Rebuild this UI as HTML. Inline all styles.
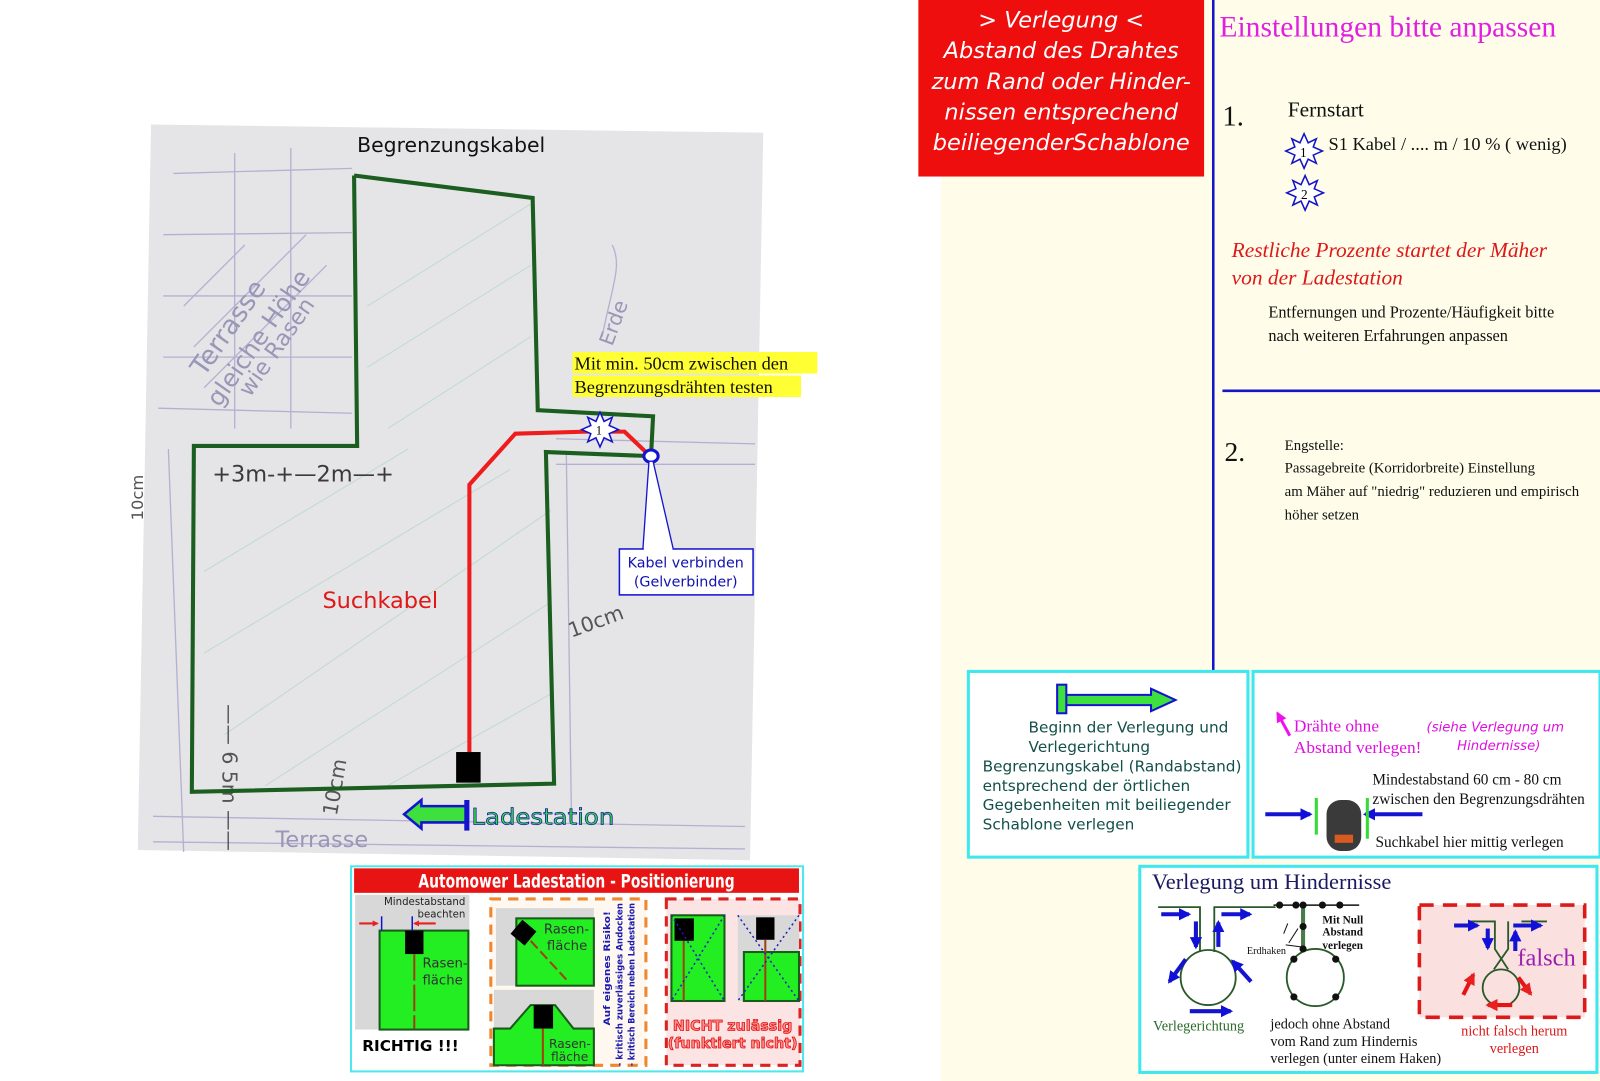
<!DOCTYPE html>
<html><head><meta charset="utf-8">
<style>
html,body{margin:0;padding:0;background:#fff;}
svg{display:block}
.s{font-family:"DejaVu Sans","Liberation Sans",sans-serif}
.t{font-family:"Liberation Serif",serif}
</style></head>
<body>
<svg width="1600" height="1081" viewBox="0 0 1568 1059.4" preserveAspectRatio="none" xmlns="http://www.w3.org/2000/svg">
<defs>
<marker id="bh" viewBox="0 0 10 10" refX="8" refY="5" markerWidth="3" markerHeight="3" orient="auto"><path d="M0,0L10,5L0,10z" fill="#1010d8"/></marker>
<marker id="rh" viewBox="0 0 10 10" refX="8" refY="5" markerWidth="3" markerHeight="3" orient="auto"><path d="M0,0L10,5L0,10z" fill="#e82020"/></marker>
<marker id="mh" viewBox="0 0 10 10" refX="8" refY="5" markerWidth="3.5" markerHeight="3.5" orient="auto"><path d="M0,0L10,5L0,10z" fill="#ee10ee"/></marker>
</defs>

<!-- right cream background -->
<rect x="922" y="0" width="646" height="1060" fill="#fffde9"/>

<!-- sketch paper -->
<polygon points="148,122 748,130 735,843 135,833" fill="#e5e5e7"/>
<g stroke="#a9a3cc" stroke-width="1.3" fill="none" opacity="0.8">
<path d="M170,170 L345,165 M160,230 L345,228 M160,290 L345,290 M160,350 L345,350 M155,400 L345,405"/>
<path d="M230,150 L230,420 M285,145 L285,420"/>
<path d="M165,440 L180,835 M150,800 L730,810 M150,825 L730,832 M555,445 L560,800 M545,430 L740,435 M545,455 L740,455"/>
<path d="M180,300 L240,240 M190,340 L300,230 M200,380 L320,260"/>
<path d="M590,330 C600,280 610,260 600,240"/>
</g>
<g stroke="#b7d8c4" stroke-width="1" opacity="0.8">
<path d="M360,300 L520,200 M360,360 L520,260 M380,420 L520,330 M200,560 L400,440 M200,640 L500,460 M220,720 L540,500 M260,770 L540,590 M380,770 L540,680"/>
</g>
<g fill="#3a3a3a" class="s" font-size="22">
<text x="208" y="472">+3m-+—2m—+</text>
</g>
<g fill="#555" class="s" font-size="20">
<text transform="translate(218,690) rotate(90)">—— 6 5m ——</text>
<text transform="translate(560,625) rotate(-20)">10cm</text>
<text transform="translate(330,800) rotate(-80)">10cm</text>
<text transform="translate(600,340) rotate(-70)" fill="#9a96b8">Erde</text>
<text transform="translate(200,370) rotate(-55)" fill="#9a96b8" font-size="26">Terrasse</text>
<text transform="translate(215,400) rotate(-55)" fill="#9a96b8" font-size="24">gleiche Höhe</text>
<text transform="translate(245,390) rotate(-55)" fill="#9a96b8" font-size="22">wie Rasen</text>
<text transform="translate(140,510) rotate(-90)" font-size="16">10cm</text>
<text x="270" y="830" fill="#9a96b8" font-size="22">Terrasse</text>
</g>

<!-- Begrenzungskabel -->
<polyline points="347,172 522,194 527,402 640,408 638,447 535,443 543,768 188,776 190,437 350,437 347,172" fill="none" stroke="#1b5e20" stroke-width="4"/>
<text x="350" y="149" class="s" font-size="20" fill="#111">Begrenzungskabel</text>
<!-- Suchkabel -->
<polyline points="460,740 460,475 505,425 575,423 612,423 635,445" fill="none" stroke="#ee1c1c" stroke-width="4"/>
<rect x="447" y="737" width="24" height="30" fill="#000"/>
<text x="316" y="596" class="s" font-size="22" fill="#e01818">Suchkabel</text>
<!-- star 1 -->
<polygon points="588,404 592,413 600,409 597,417 606,421 597,425 600,433 592,429 588,438 584,429 576,433 579,425 570,421 579,417 576,409 584,413" fill="#fff" stroke="#1212c8" stroke-width="1.5"/>
<text x="584" y="426" class="t" font-size="12">1</text>
<!-- connector -->
<ellipse cx="638" cy="447" rx="7" ry="6" fill="#fff" stroke="#1414d0" stroke-width="3"/>
<polygon points="636,452 630,539 660,539 640,452" fill="#fff" stroke="#1414d0" stroke-width="1.3"/>
<rect x="607" y="538" width="131" height="45" fill="#fff" stroke="#1414d0" stroke-width="1.5"/>
<line x1="631" y1="538" x2="659" y2="538" stroke="#fff" stroke-width="2"/>
<text x="672" y="556" text-anchor="middle" class="s" font-size="14" fill="#1212b0">Kabel verbinden</text>
<text x="672" y="575" text-anchor="middle" class="s" font-size="14" fill="#1212b0">(Gelverbinder)</text>
<!-- yellow label -->
<rect x="561" y="345" width="240" height="21" fill="#ffff33"/>
<rect x="561" y="368" width="224" height="21" fill="#ffff33"/>
<text x="563" y="362" class="t" font-size="18" fill="#111">Mit min. 50cm zwischen den</text>
<text x="563" y="385" class="t" font-size="18" fill="#111">Begrenzungsdrähten testen</text>
<!-- Ladestation -->
<path d="M458,790 L413,790 L413,784 L396,798 L413,812 L413,806 L458,806" fill="#3ee03e" stroke="#1414d0" stroke-width="2.5"/>
<rect x="455" y="784" width="5" height="30" fill="#1414d0"/>
<text x="462" y="808" class="s" font-size="22" fill="#33dd33" stroke="#1414b0" stroke-width="0.7" textLength="140" lengthAdjust="spacingAndGlyphs">Ladestation</text>

<!-- lower-left panel -->
<rect x="344" y="849" width="443" height="201" fill="#fff" stroke="#4de8ee" stroke-width="2"/>
<rect x="347" y="851" width="436" height="24" fill="#e81414"/>
<text x="565" y="870" text-anchor="middle" class="s" font-weight="bold" font-size="18" fill="#fff" textLength="310" lengthAdjust="spacingAndGlyphs">Automower Ladestation - Positionierung</text>
<rect x="348" y="877" width="112" height="132" fill="#d8d8d8"/>
<rect x="372" y="912" width="87" height="97" fill="#22ee22" stroke="#1a5a1a" stroke-width="2"/>
<rect x="397" y="912" width="18" height="23" fill="#000"/>
<line x1="406" y1="935" x2="406" y2="1008" stroke="#a04010" stroke-width="2" stroke-dasharray="20,0,6,4"/>
<text x="456" y="887" text-anchor="end" class="s" font-size="10" fill="#222">Mindestabstand</text>
<text x="456" y="899" text-anchor="end" class="s" font-size="10" fill="#222">beachten</text>
<line x1="352" y1="905" x2="370" y2="905" stroke="#e82020" stroke-width="2" marker-end="url(#rh)"/>
<line x1="427" y1="905" x2="406" y2="905" stroke="#e82020" stroke-width="2" marker-end="url(#rh)"/>
<line x1="374" y1="898" x2="374" y2="912" stroke="#1414d0" stroke-width="1.5"/>
<line x1="404" y1="898" x2="404" y2="912" stroke="#1414d0" stroke-width="1.5"/>
<text x="414" y="948" class="s" font-size="13" fill="#333">Rasen-</text>
<text x="414" y="965" class="s" font-size="13" fill="#333">fläche</text>
<text x="355" y="1030" class="s" font-weight="bold" font-size="15" fill="#000">RICHTIG !!!</text>
<rect x="481" y="881" width="152" height="163" fill="#fff8f0" stroke="#ee8830" stroke-width="3" stroke-dasharray="10,7"/>
<rect x="486" y="890" width="96" height="76" fill="#d8d8d8"/>
<rect x="506" y="900" width="76" height="66" fill="#22ee22" stroke="#1a5a1a" stroke-width="2"/>
<rect x="504" y="905" width="18" height="18" fill="#000" transform="rotate(40 513 914)"/>
<line x1="520" y1="922" x2="555" y2="960" stroke="#a04010" stroke-width="2" stroke-dasharray="10,4"/>
<text x="533" y="915" class="s" font-size="13" fill="#333">Rasen-</text>
<text x="536" y="931" class="s" font-size="13" fill="#333">fläche</text>
<rect x="484" y="970" width="98" height="74" fill="#d8d8d8"/>
<polygon points="484,1044 484,1008 500,1008 520,985 544,985 562,1008 582,1008 582,1044" fill="#22ee22" stroke="#1a5a1a" stroke-width="2"/>
<rect x="523" y="985" width="19" height="23" fill="#000"/>
<line x1="532" y1="1008" x2="532" y2="1044" stroke="#a04010" stroke-width="2"/>
<text x="538" y="1027" class="s" font-size="12" fill="#333">Rasen-</text>
<text x="540" y="1040" class="s" font-size="12" fill="#333">fläche</text>
<g class="s" font-size="9" font-weight="bold" fill="#1a1ab0">
<text transform="translate(598,1005) rotate(-90)" textLength="112" lengthAdjust="spacingAndGlyphs">Auf eigenes Risiko!</text>
<text transform="translate(610,1045) rotate(-90)" textLength="160" lengthAdjust="spacingAndGlyphs">- kritisch zuverlässiges Andocken</text>
<text transform="translate(622,1045) rotate(-90)" textLength="160" lengthAdjust="spacingAndGlyphs">- kritisch Bereich neben Ladestation</text>
</g>
<rect x="653" y="881" width="131" height="163" fill="#fde4e4" stroke="#dd2020" stroke-width="3" stroke-dasharray="10,7"/>
<rect x="658" y="897" width="52" height="84" fill="#22ee22" stroke="#1a5a1a" stroke-width="2"/>
<rect x="661" y="900" width="19" height="22" fill="#000"/>
<line x1="670" y1="922" x2="670" y2="981" stroke="#a04010" stroke-width="2"/>
<path d="M658,897 L710,981 M710,897 L658,981" stroke="#2020c0" stroke-dasharray="2,3" stroke-width="1.5"/>
<rect x="723" y="897" width="60" height="84" fill="#d8d8d8"/>
<rect x="729" y="933" width="54" height="48" fill="#22ee22" stroke="#1a5a1a" stroke-width="2"/>
<rect x="741" y="899" width="18" height="22" fill="#000"/>
<line x1="750" y1="921" x2="750" y2="981" stroke="#a04010" stroke-width="2"/>
<path d="M723,897 L783,981 M783,897 L723,981" stroke="#2020c0" stroke-dasharray="2,3" stroke-width="1.5"/>
<text x="718" y="1010" text-anchor="middle" class="s" font-size="14" font-weight="bold" fill="#ff9090" stroke="#e01010" stroke-width="0.8">NICHT zulässig</text>
<text x="718" y="1027" text-anchor="middle" class="s" font-size="14" font-weight="bold" fill="#ff9090" stroke="#e01010" stroke-width="0.8">(funktiert nicht)</text>

<!-- red box top -->
<rect x="900" y="0" width="280" height="173" fill="#ee0e0e"/>
<g class="s" font-style="italic" font-size="22" fill="#fff" text-anchor="middle">
<text x="1040" y="27">&gt; Verlegung &lt;</text>
<text x="1040" y="57">Abstand des Drahtes</text>
<text x="1040" y="87">zum Rand oder Hinder-</text>
<text x="1040" y="117">nissen entsprechend</text>
<text x="1040" y="147">beiliegenderSchablone</text>
</g>

<!-- right column -->
<line x1="1189" y1="0" x2="1189" y2="658" stroke="#1414c8" stroke-width="2.5"/>
<line x1="1198" y1="383" x2="1568" y2="383" stroke="#1414c8" stroke-width="2.5"/>
<text x="1195" y="36" class="t" font-size="29" fill="#e020e0">Einstellungen bitte anpassen</text>
<text x="1198" y="123" class="t" font-size="28" fill="#111">1.</text>
<text x="1262" y="114" class="t" font-size="21" fill="#111">Fernstart</text>
<polygon points="1278,131 1282,140 1290,136 1287,144 1296,148 1287,152 1290,160 1282,156 1278,165 1274,156 1266,160 1269,152 1260,148 1269,144 1266,136 1274,140" fill="#fff" stroke="#1212c8" stroke-width="1.5"/>
<text x="1274" y="154" class="t" font-size="13">1</text>
<text x="1302" y="147" class="t" font-size="18" fill="#111">S1 Kabel / .... m / 10 % ( wenig)</text>
<polygon points="1279,172 1283,181 1291,177 1288,185 1297,189 1288,193 1291,201 1283,197 1279,206 1275,197 1267,201 1270,193 1261,189 1270,185 1267,177 1275,181" fill="#fff" stroke="#1212c8" stroke-width="1.5"/>
<text x="1275" y="195" class="t" font-size="13">2</text>
<text x="1207" y="252" class="t" font-style="italic" font-size="21" fill="#dd1818">Restliche Prozente  startet der Mäher</text>
<text x="1207" y="279" class="t" font-style="italic" font-size="21" fill="#dd1818">von der Ladestation</text>
<text x="1243" y="311" class="t" font-size="16" fill="#111">Entfernungen und Prozente/Häufigkeit bitte</text>
<text x="1243" y="334" class="t" font-size="16" fill="#111">nach weiteren Erfahrungen anpassen</text>
<text x="1200" y="452" class="t" font-size="27" fill="#111">2.</text>
<g class="t" font-size="14.5" fill="#111">
<text x="1259" y="441">Engstelle:</text>
<text x="1259" y="463">Passagebreite (Korridorbreite) Einstellung</text>
<text x="1259" y="486">am Mäher auf "niedrig" reduzieren und empirisch</text>
<text x="1259" y="509">höher setzen</text>
</g>

<!-- box 1 -->
<rect x="949" y="658" width="274" height="182" fill="#fff" stroke="#3ee8ee" stroke-width="3"/>
<path d="M1040,681 L1128,681 L1128,675 L1152,686 L1128,697 L1128,691 L1040,691" fill="#3ee03e" stroke="#1414d0" stroke-width="2"/>
<rect x="1036" y="671" width="9" height="28" fill="#3ee03e" stroke="#1414d0" stroke-width="2"/>
<g class="s" font-size="15" fill="#14504a">
<text x="1008" y="718">Beginn der Verlegung und</text>
<text x="1008" y="737">Verlegerichtung</text>
<text x="963" y="756">Begrenzungskabel (Randabstand)</text>
<text x="963" y="775">entsprechend der örtlichen</text>
<text x="963" y="794">Gegebenheiten mit beiliegender</text>
<text x="963" y="813">Schablone verlegen</text>
</g>
<!-- box 2 -->
<rect x="1228" y="658" width="340" height="182" fill="#fff" stroke="#3ee8ee" stroke-width="3"/>
<line x1="1264" y1="721" x2="1252" y2="699" stroke="#ee10ee" stroke-width="3" marker-end="url(#mh)"/>
<text x="1268" y="717" class="t" font-size="17" fill="#e010e0">Drähte ohne</text>
<text x="1268" y="738" class="t" font-size="17" fill="#e010e0">Abstand verlegen!</text>
<text x="1398" y="717" class="s" font-style="italic" font-size="13" fill="#e010e0">(siehe Verlegung um</text>
<text x="1428" y="735" class="s" font-style="italic" font-size="13" fill="#e010e0">Hindernisse)</text>
<text x="1345" y="769" class="t" font-size="15" fill="#111">Mindestabstand 60 cm - 80 cm</text>
<text x="1345" y="788" class="t" font-size="15" fill="#111">zwischen den Begrenzungsdrähten</text>
<text x="1348" y="830" class="t" font-size="15" fill="#111">Suchkabel hier mittig verlegen</text>
<line x1="1240" y1="798" x2="1284" y2="798" stroke="#1414d0" stroke-width="4" marker-end="url(#bh)"/>
<line x1="1394" y1="798" x2="1338" y2="798" stroke="#1414d0" stroke-width="4" marker-end="url(#bh)"/>
<line x1="1290" y1="782" x2="1290" y2="818" stroke="#33dd33" stroke-width="3"/>
<line x1="1340" y1="782" x2="1340" y2="822" stroke="#33dd33" stroke-width="3"/>
<rect x="1300" y="784" width="34" height="50" rx="14" fill="#3a3a3a"/>
<rect x="1308" y="818" width="18" height="8" fill="#d85a20"/>

<!-- box 3 -->
<rect x="1117" y="849" width="448" height="202" fill="#fff" stroke="#3ee8ee" stroke-width="3"/>
<text x="1129" y="871" class="t" font-size="22" fill="#1a1a60">Verlegung um Hindernisse</text>
<g stroke="#2a5a2a" stroke-width="1.8" fill="none">
<path d="M1135,889 L1176,889 L1176,933 M1190,933 L1190,889 L1250,889"/>
<circle cx="1184" cy="958" r="27"/>
<circle cx="1289" cy="958" r="28"/>
<path d="M1452,919 L1464,919 L1464,957 M1477,957 L1477,919 L1495,919"/>
<circle cx="1470" cy="975" r="20"/>
</g>
<line x1="1248" y1="887" x2="1332" y2="887" stroke="#111" stroke-width="1.5"/>
<line x1="1277" y1="887" x2="1277" y2="930" stroke="#4a7a4a" stroke-width="4"/>
<g fill="#111">
<circle cx="1254" cy="887" r="3.5"/><circle cx="1270" cy="887" r="3.5"/><circle cx="1296" cy="887" r="3.5"/><circle cx="1313" cy="887" r="3.5"/><circle cx="1277" cy="887" r="3.5"/>
<circle cx="1277" cy="908" r="3.5"/><circle cx="1277" cy="930" r="3.5"/>
<circle cx="1268" cy="940" r="3.5"/><circle cx="1309" cy="940" r="3.5"/><circle cx="1268" cy="977" r="3.5"/><circle cx="1309" cy="977" r="3.5"/>
</g>
<path d="M1262,905 L1258,915 M1263,924 L1272,910 M1260,926 L1275,928" stroke="#111" stroke-width="1"/>
<text x="1222" y="935" class="t" font-size="10" fill="#111">Erdhaken</text>
<g class="t" font-size="11" font-weight="bold" fill="#111">
<text x="1296" y="905">Mit Null</text><text x="1296" y="917">Abstand</text><text x="1296" y="930">verlegen</text>
</g>
<g stroke="#1414d0" stroke-width="4">
<line x1="1138" y1="896" x2="1165" y2="896" marker-end="url(#bh)"/>
<line x1="1197" y1="896" x2="1225" y2="896" marker-end="url(#bh)"/>
<line x1="1172" y1="903" x2="1172" y2="928" marker-end="url(#bh)"/>
<line x1="1194" y1="928" x2="1194" y2="904" marker-end="url(#bh)"/>
<line x1="1162" y1="940" x2="1146" y2="962" marker-end="url(#bh)"/>
<line x1="1226" y1="962" x2="1208" y2="942" marker-end="url(#bh)"/>
<line x1="1166" y1="991" x2="1206" y2="991" marker-end="url(#bh)"/>
</g>
<text x="1130" y="1010" class="t" font-size="14" fill="#2a6a2a">Verlegerichtung</text>
<g class="t" font-size="14" fill="#111">
<text x="1245" y="1008">jedoch ohne Abstand</text>
<text x="1245" y="1025">vom Rand zum Hindernis</text>
<text x="1245" y="1042">verlegen (unter einem Haken)</text>
</g>
<rect x="1391" y="887" width="162" height="110" fill="#fbe0e0" stroke="#dd1a1a" stroke-width="3.5" stroke-dasharray="14,9"/>
<g stroke="#2a5a2a" stroke-width="1.8" fill="none">
<path d="M1440,903 L1465,903 L1465,930 L1478,950 M1491,903 L1516,903 M1478,903 L1478,930 L1464,950"/>
<circle cx="1471" cy="968" r="18"/>
</g>
<g stroke="#1414d0" stroke-width="4">
<line x1="1425" y1="907" x2="1448" y2="907" marker-end="url(#bh)"/>
<line x1="1483" y1="907" x2="1510" y2="907" marker-end="url(#bh)"/>
<line x1="1458" y1="910" x2="1458" y2="929" marker-end="url(#bh)"/>
<line x1="1485" y1="932" x2="1485" y2="913" marker-end="url(#bh)"/>
</g>
<g stroke="#e81414" stroke-width="4">
<line x1="1434" y1="975" x2="1444" y2="955" marker-end="url(#rh)"/>
<line x1="1488" y1="958" x2="1500" y2="974" marker-end="url(#rh)"/>
<line x1="1482" y1="985" x2="1458" y2="985" marker-end="url(#rh)"/>
</g>
<text x="1487" y="946" class="t" font-size="24" fill="#9a20b0">falsch</text>
<text x="1484" y="1015" text-anchor="middle" class="t" font-size="14" fill="#dd1818">nicht falsch herum</text>
<text x="1484" y="1032" text-anchor="middle" class="t" font-size="14" fill="#dd1818">verlegen</text>
</svg>
</body></html>
